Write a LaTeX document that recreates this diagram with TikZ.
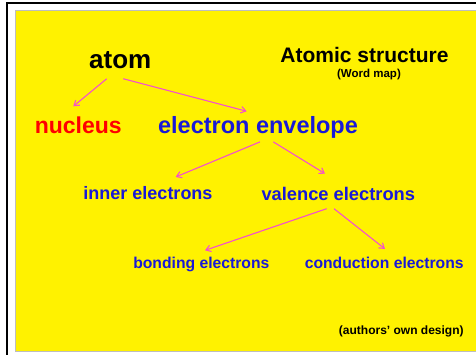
\documentclass[tikz,border=0pt]{standalone}
\usepackage{fontspec}
\setmainfont{Liberation Sans}
\usetikzlibrary{arrows.meta,positioning}
\definecolor{wordblue}{RGB}{25,25,215}
\definecolor{linkpink}{RGB}{245,80,205}
\definecolor{framegray}{RGB}{190,190,190}

\begin{document}
\begin{tikzpicture}[
    x=1pt, y=-1pt,
    every node/.style={inner sep=0pt, anchor=base, font=\bfseries},
    word/.style={text=wordblue},
    link/.style={-{Straight Barb[length=1.7mm,width=2.3mm]}, linkpink, line width=1.1pt}
]
\useasboundingbox (0,0) rectangle (476,355);
\fill[white] (0,0) rectangle (476,355);
\draw[line width=1.6pt] (7,355) -- (7,3) -- (476,3);
\filldraw[fill=yellow, draw=framegray, line width=1pt] (15.5,10.5) rectangle (480,351);

\node (atom) at (120.3,68.3) {\fontsize{26}{30}\selectfont atom};
\node (title) at (364.5,63) {\fontsize{21}{25}\selectfont Atomic structure};
\node (wordmap) at (369,77.8) {\fontsize{11.5}{13}\selectfont (Word map)};
\node[text=red] (nucleus) at (78.3,134) {\fontsize{23}{27}\selectfont nucleus};
\node[word] (envelope) at (258,134) {\fontsize{23.5}{27}\selectfont electron envelope};
\node[word] (inner) at (148,200) {\fontsize{18}{22}\selectfont inner electrons};
\node[word] (valence) at (338.3,200.5) {\fontsize{18.3}{22}\selectfont valence electrons};
\node[word] (bonding) at (201.3,268.3) {\fontsize{15.7}{19}\selectfont bonding electrons};
\node[word] (conduction) at (384.2,268.3) {\fontsize{15.7}{19}\selectfont conduction electrons};
\node (design) at (401.3,334.5) {\fontsize{12}{14}\selectfont (authors' own design)};

\draw[link] ([xshift=-13.6pt,yshift=-10pt]atom.south) -- ([xshift=-5pt,yshift=10.8pt]nucleus.north);
\draw[link] ([xshift=3pt,yshift=-10pt]atom.south) -- ([xshift=-11.3pt,yshift=5.5pt]envelope.north);
\draw[link] ([xshift=2pt,yshift=-2.8pt]envelope.south) -- ([xshift=27.7pt,yshift=9.8pt]inner.north);
\draw[link] ([xshift=15.3pt,yshift=-2.8pt]envelope.south) -- ([xshift=-13.3pt,yshift=13.4pt]valence.north);
\draw[link] ([xshift=-11.6pt,yshift=-7.8pt]valence.south) -- ([xshift=3.7pt,yshift=6.4pt]bonding.north);
\draw[link] ([xshift=-4.3pt,yshift=-7.8pt]valence.south) -- ([xshift=0.8pt,yshift=7.8pt]conduction.north);
\end{tikzpicture}
\end{document}
